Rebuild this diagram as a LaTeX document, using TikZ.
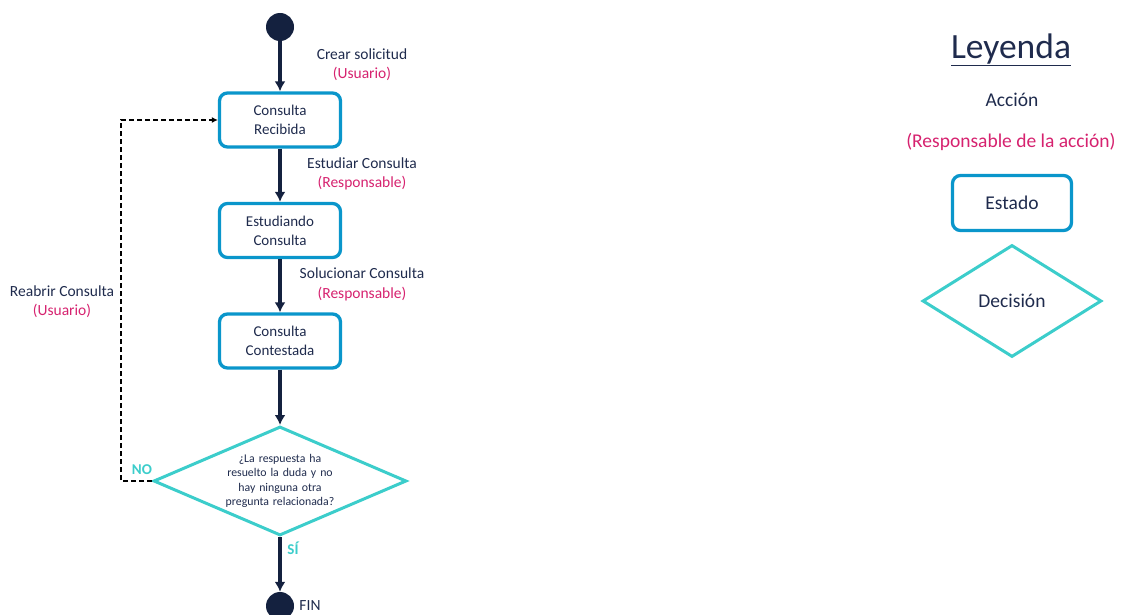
\documentclass[tikz,border=0pt]{standalone}
\usepackage{fontspec}
\setmainfont{Carlito}
\usetikzlibrary{shapes,arrows,arrows.meta}
\definecolor{navy}{HTML}{14213F}
\definecolor{tinta}{HTML}{1F2B4D}
\definecolor{rosa}{HTML}{D6226F}
\definecolor{azul}{HTML}{0A96CB}
\definecolor{turq}{HTML}{3CCDCB}
\tikzstyle{estado} = [rectangle, draw=azul, line width=3.3pt, text=tinta, 
text width=110pt, text centered, rounded corners=8pt, minimum width=121pt, minimum height=54pt, font=\fontsize{15}{19}\selectfont]
\tikzstyle{decision} = [diamond, draw=turq, line width=3pt, text=tinta, 
text width=125pt, text centered, aspect=2.3, inner sep=0pt, minimum width=253pt, minimum height=109pt, font=\fontsize{11.8}{14.2}\selectfont]
\tikzstyle{punto} = [circle, fill=navy, minimum size=28pt, inner sep=0pt]
\tikzstyle{accion} = [text=tinta, align=center, font=\fontsize{15.5}{19.5}\selectfont]
\tikzstyle{rama} = [text=turq, font=\fontsize{15}{18}\selectfont\bfseries]
\tikzstyle{line} = [draw=navy, line width=3.3pt, -{Latex[length=10pt,width=11pt]}]
\tikzstyle{reabre} = [draw=black, line width=2pt, dash pattern=on 5pt off 3pt, -{Latex[length=6pt,width=6pt]}]

\begin{document}
\begin{tikzpicture}[x=1pt, y=-1pt, node distance=110.5pt, auto]
	\useasboundingbox (0,0) rectangle (1124,615);
	% flujo principal
	\node [punto] (inicio) at (280,27) {};
	\node [estado] (recibida) at (280,120) {Consulta\\Recibida};
	\node [estado, below of=recibida] (estudiando) {Estudiando\\Consulta};
	\node [estado, below of=estudiando] (contestada) {Consulta\\Contestada};
	\node [decision] (pregunta) at (280,481) {¿La respuesta ha\\resuelto la duda y no\\hay ninguna otra\\pregunta relacionada?};
	\node [punto] (fin) at (280,606) {};
	
	\node [accion] (crear) at (362,64.5) {Crear solicitud\\\textcolor{rosa}{(Usuario)}};
	\node [accion] (estudiar) at (362,174) {Estudiar Consulta\\\textcolor{rosa}{(Responsable)}};
	\node [accion] (solucionar) at (362,284.5) {Solucionar Consulta\\\textcolor{rosa}{(Responsable)}};
	\node [accion] (reabrir) at (62,301.5) {Reabrir Consulta\\\textcolor{rosa}{(Usuario)}};
	\node [rama] (no) at (142,470) {NO};
	\node [rama] (si) at (293,548) {SÍ};
	\node [accion] (finlbl) at (310,606) {FIN};
	
	\path [line] (inicio) -- (recibida);
	\path [line] (recibida) -- (estudiando);
	\path [line] (estudiando) -- (contestada);
	\path [line] (contestada) -- (pregunta);
	\path [line] (pregunta) -- (fin);
	\path [reabre] (pregunta.west) -- ++(-31,0) |- (recibida.west);
	
	% leyenda
	\node [text=tinta, font=\fontsize{35.5}{40}\selectfont] (leyenda) at (1011,50) {\underline{Leyenda}};
	\node [text=tinta, font=\fontsize{19.5}{23}\selectfont] (accionley) at (1012,100) {Acción};
	\node [text=rosa, font=\fontsize{19.5}{23}\selectfont] (respley) at (1011,142) {(Responsable de la acción)};
	\node [estado, font=\fontsize{19.5}{23}\selectfont, minimum width=119pt, minimum height=55pt] (estadoley) at (1012,203) {Estado};
	\node [decision, font=\fontsize{19.5}{23}\selectfont, text width=80pt, minimum width=179pt, minimum height=112pt, aspect=1.6] (decisionley) at (1012,301) {Decisión};
	
	\end{tikzpicture}
\end{document}
